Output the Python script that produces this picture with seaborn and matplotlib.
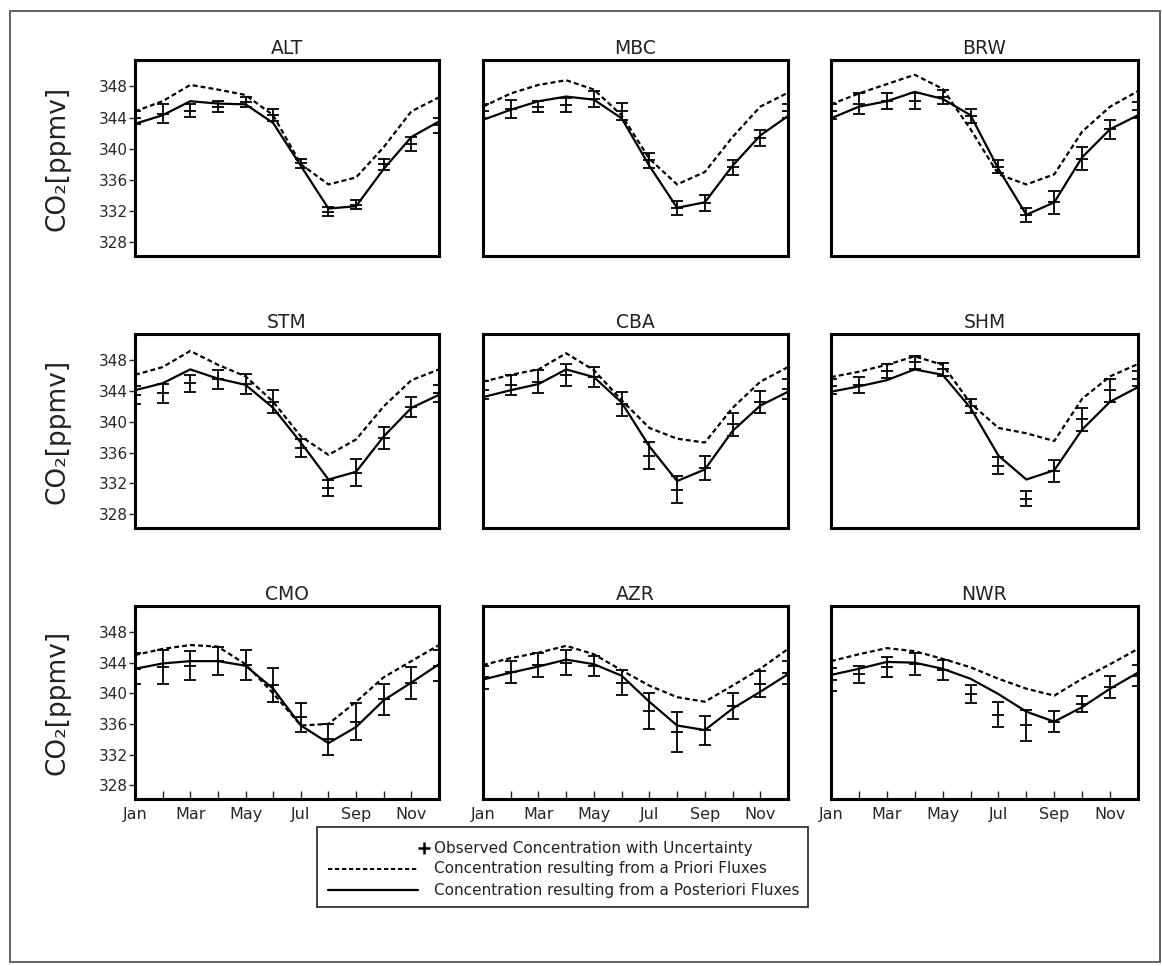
import numpy as np
import pandas as pd
import seaborn as sns
from matplotlib import pyplot as plt
import matplotlib
from matplotlib.lines import Line2D
from matplotlib.patches import Rectangle

sns.set_theme(style='white')
plt.rcParams['font.family'] = ['DejaVu Sans']
plt.rc('axes', unicode_minus=False)

months = list(range(1, 13))
month_labels = ["Jan", "", "Mar", "", "May", "", "Jul", "", "Sep", "", "Nov", ""]
y_ticks = [328, 332, 336, 340, 344, 348]
stations = ["ALT", "MBC", "BRW", "STM", "CBA", "SHM", "CMO", "AZR", "NWR"]

# a priori fluxes -> concentration (dashed)
prior = {
    "ALT": [344.8, 346.1, 348.2, 347.6, 346.9, 344.3, 338.0, 335.4, 336.3, 340.2, 344.8, 346.6],
    "MBC": [345.4, 347.1, 348.2, 348.8, 347.6, 344.3, 338.7, 335.4, 337.0, 341.5, 345.4, 347.2],
    "BRW": [345.7, 347.1, 348.3, 349.5, 347.7, 342.5, 336.7, 335.4, 336.7, 342.2, 345.4, 347.4],
    "STM": [346.1, 347.1, 349.2, 347.4, 345.9, 342.6, 338.1, 335.7, 337.7, 342.0, 345.4, 346.8],
    "CBA": [345.2, 346.1, 346.8, 348.9, 346.7, 342.8, 339.2, 337.8, 337.3, 341.8, 345.2, 347.1],
    "SHM": [345.8, 346.5, 347.4, 348.5, 347.4, 342.4, 339.2, 338.5, 337.5, 343.0, 345.9, 347.5],
    "CMO": [345.0, 345.8, 346.3, 346.1, 343.8, 340.0, 335.8, 336.0, 338.9, 342.1, 344.2, 346.3],
    "AZR": [343.7, 344.6, 345.3, 346.2, 345.1, 343.0, 341.0, 339.5, 338.9, 341.0, 343.2, 345.8],
    "NWR": [344.2, 345.1, 345.9, 345.5, 344.5, 343.4, 341.9, 340.6, 339.7, 341.9, 343.8, 345.8],
}
# a posteriori fluxes -> concentration (solid)
posterior = {
    "ALT": [343.2, 344.3, 346.1, 345.8, 345.7, 343.3, 337.8, 332.3, 332.6, 337.4, 341.5, 343.5],
    "MBC": [343.7, 345.0, 346.1, 346.7, 346.3, 343.9, 337.8, 332.4, 333.1, 337.8, 341.7, 344.2],
    "BRW": [343.9, 345.4, 346.1, 347.3, 346.4, 344.3, 337.4, 331.5, 333.1, 338.9, 342.5, 344.3],
    "STM": [344.1, 345.0, 346.8, 345.6, 344.8, 341.8, 337.3, 332.5, 333.5, 338.1, 341.8, 343.5],
    "CBA": [343.2, 344.1, 344.9, 346.8, 345.8, 342.5, 336.8, 332.3, 333.8, 338.8, 342.1, 343.9],
    "SHM": [343.9, 344.6, 345.4, 346.8, 346.1, 341.8, 335.6, 332.5, 333.7, 339.0, 342.6, 344.5],
    "CMO": [343.2, 343.9, 344.2, 344.2, 343.6, 340.6, 335.8, 333.5, 335.6, 339.1, 341.4, 343.8],
    "AZR": [341.8, 342.7, 343.5, 344.4, 343.8, 342.3, 338.9, 335.8, 335.2, 338.0, 340.2, 342.5],
    "NWR": [342.4, 343.2, 344.1, 344.0, 343.2, 341.9, 339.9, 337.6, 336.3, 338.2, 340.6, 342.7],
}
observed = {
    "ALT": [344.0, 344.5, 344.9, 345.4, 346.0, 344.3, 338.1, 331.9, 332.8, 338.0, 340.6, 343.0],
    "MBC": [344.8, 345.1, 345.4, 345.6, 346.4, 344.8, 338.5, 332.4, 333.0, 337.6, 341.4, 344.8],
    "BRW": [344.8, 345.8, 346.1, 346.1, 346.6, 344.2, 337.7, 331.5, 333.1, 338.7, 342.5, 345.0],
    "STM": [343.5, 343.7, 345.0, 345.5, 344.9, 342.6, 336.6, 331.4, 333.4, 337.9, 341.9, 343.7],
    "CBA": [344.1, 344.8, 345.2, 346.1, 345.8, 342.3, 335.6, 331.2, 334.0, 339.7, 342.6, 344.3],
    "SHM": [344.6, 344.8, 346.6, 347.7, 346.8, 342.1, 334.3, 330.0, 333.6, 340.3, 344.1, 345.6],
    "CMO": [343.2, 343.4, 343.6, 344.2, 343.7, 341.1, 336.9, 334.0, 336.3, 339.2, 341.4, 343.6],
    "AZR": [342.1, 342.8, 343.7, 344.0, 343.6, 341.4, 337.7, 334.9, 335.2, 338.3, 341.2, 342.7],
    "NWR": [341.8, 342.5, 343.4, 343.8, 343.0, 339.9, 337.2, 335.8, 336.3, 338.6, 340.8, 342.3],
}
obs_err = {
    "ALT": [0.8, 1.2, 0.8, 0.7, 0.6, 0.8, 0.6, 0.6, 0.6, 0.7, 0.9, 1.0],
    "MBC": [0.9, 1.2, 0.7, 0.9, 1.0, 1.1, 1.0, 0.9, 1.0, 1.0, 1.0, 0.9],
    "BRW": [1.0, 1.4, 1.0, 1.0, 0.9, 0.9, 0.8, 0.9, 1.5, 1.5, 1.2, 1.0],
    "STM": [1.2, 1.2, 1.1, 1.2, 1.3, 1.5, 1.2, 1.1, 1.7, 1.4, 1.3, 1.1],
    "CBA": [1.2, 1.3, 1.5, 1.4, 1.3, 1.6, 1.8, 1.8, 1.6, 1.5, 1.4, 1.3],
    "SHM": [1.0, 1.0, 0.9, 0.8, 0.8, 0.9, 1.1, 1.0, 1.4, 1.5, 1.5, 1.0],
    "CMO": [2.0, 2.2, 1.9, 1.8, 1.9, 2.2, 1.9, 2.0, 2.4, 2.0, 2.1, 2.0],
    "AZR": [1.5, 1.4, 1.6, 1.6, 1.3, 1.6, 2.4, 2.6, 1.9, 1.7, 1.7, 1.5],
    "NWR": [1.5, 1.1, 1.3, 1.4, 1.3, 1.2, 1.6, 2.0, 1.4, 1.1, 1.4, 1.4],
}

W, H = 1162, 966
col_x = [(135, 439), (483, 788), (831, 1138)]
row_y = [(60, 256), (334, 528), (606, 799)]

def fx(px):
    return px / W

def fy(py):
    return 1 - py / H

rows = []
for st in stations:
    for m, a, b in zip(months, prior[st], posterior[st]):
        rows.append({"station": st, "month": m, "kind": "prior", "co2": a})
        rows.append({"station": st, "month": m, "kind": "posterior", "co2": b})
df = pd.DataFrame(rows)

fig = plt.figure(figsize=(W / 100, H / 100), dpi=100)
fig.patch.set_facecolor('white')

for i, st in enumerate(stations):
    r, c = divmod(i, 3)
    x0, x1 = col_x[c]
    y0, y1 = row_y[r]
    ax = fig.add_axes([fx(x0), fy(y1), fx(x1 - x0), (y1 - y0) / H])
    sub = df[df["station"] == st]
    sns.lineplot(data=sub, x="month", y="co2", style="kind",
                 dashes={"prior": (2.2, 1.4), "posterior": ""},
                 color="black", linewidth=1.6, legend=False, ax=ax)
    ax.errorbar(months, observed[st], yerr=obs_err[st], fmt='_', color='black',
                markersize=9, mew=1.3, elinewidth=1.3, capsize=4.5, capthick=1.3)
    ax.set_xlim(1, 12)
    ax.set_ylim(326.2, 351.4)
    ax.set_xlabel("")
    ax.set_ylabel("")
    ax.set_title(st, fontsize=13.5, pad=4, color='#222222')
    for s in ax.spines.values():
        s.set_linewidth(2.2)
        s.set_color('black')
    ax.grid(False)
    if c == 0:
        ax.set_yticks(y_ticks)
        ax.set_yticklabels([str(v) for v in y_ticks], fontsize=11)
        ax.tick_params(axis='y', direction='out', length=4, width=1, pad=1, left=True)
    else:
        ax.set_yticks([])
    if r == 2:
        ax.set_xticks(months)
        ax.set_xticklabels(month_labels, fontsize=11.5)
        ax.tick_params(axis='x', direction='in', length=6, width=1, pad=6, bottom=True)
    else:
        ax.set_xticks([])

# y axis labels per row
for y0, y1 in row_y:
    fig.text(fx(57), fy((y0 + y1) / 2), "CO₂[ppmv]", rotation=90, fontsize=19,
             ha='center', va='center', color='#222222')

# legend box
fig.add_artist(Rectangle((fx(317), fy(907)), fx(808 - 317), (907 - 827) / H,
                         transform=fig.transFigure, fill=False, edgecolor='#333333', lw=1.3))
leg_rows = [848, 869, 890]
leg_text = ["Observed Concentration with Uncertainty",
            "Concentration resulting from a Priori Fluxes",
            "Concentration resulting from a Posteriori Fluxes"]
fig.add_artist(Line2D([fx(424)], [fy(leg_rows[0])], marker='+', markersize=9, mew=1.8,
                      color='black', transform=fig.transFigure))
fig.add_artist(Line2D([fx(328), fx(418)], [fy(leg_rows[1])] * 2, color='black', lw=1.4,
                      dashes=(2.2, 1.4), transform=fig.transFigure))
fig.add_artist(Line2D([fx(328), fx(418)], [fy(leg_rows[2])] * 2, color='black', lw=1.6,
                      transform=fig.transFigure))
for yy, t in zip(leg_rows, leg_text):
    fig.text(fx(434), fy(yy), t, fontsize=11, ha='left', va='center', color='#222222')

# outer frame
fig.add_artist(Rectangle((fx(10), fy(962)), fx(1160 - 10), (962 - 11) / H,
                         transform=fig.transFigure, fill=False, edgecolor='#555555', lw=1.3))

fig.savefig("out.png", dpi=100)
